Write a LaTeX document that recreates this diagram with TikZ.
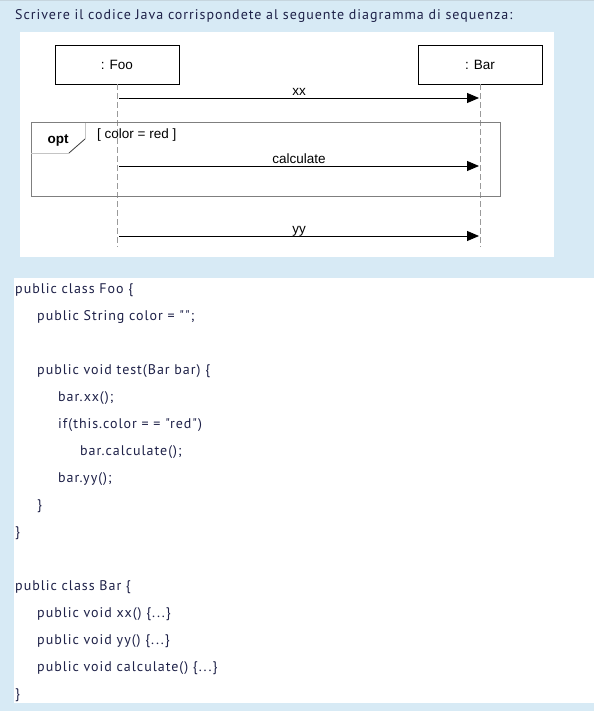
\documentclass[tikz,border=0pt]{standalone}
\usepackage{fontspec}
\setmainfont{Liberation Sans}
\newfontfamily\pagefont[LetterSpace=7]{PT Sans}
\usetikzlibrary{arrows.meta,positioning}
\definecolor{pageblue}{HTML}{D7EAF5}
\definecolor{inkblue}{HTML}{1E2148}
\definecolor{lifegray}{HTML}{9A9A9A}
\definecolor{framegray}{HTML}{7F7F7F}
\definecolor{tabgray}{HTML}{C4C4C4}
\tikzset{
  object/.style={draw, line width=0.9pt, minimum width=124pt, minimum height=39pt,
    inner sep=0pt, font=\fontsize{13.5}{16}\selectfont},
  lifeline/.style={draw=lifegray, line width=1pt, dash pattern=on 6pt off 3pt},
  message/.style={-{Triangle[length=12pt,width=10pt]}, line width=0.8pt},
  msglabel/.style={anchor=base, inner sep=0pt, yshift=2.5pt, font=\fontsize{13.5}{16}\selectfont},
  codeline/.style={anchor=base west, inner sep=0pt, text=inkblue, font=\pagefont\fontsize{14}{16}\selectfont},
}
\begin{document}
\begin{tikzpicture}[x=1pt,y=-1pt]
  \fill[pageblue] (0,0) rectangle (594,711);
  \useasboundingbox (0,0) rectangle (594,711);
  \draw[pageblue!80!gray, line width=1.5pt] (0,0.75) -- (594,0.75);
  \fill[white] (20,32) rectangle (554,257);
  \fill[white] (14,278) rectangle (594,703);
  \node[codeline] (title) at (15,20) {Scrivere il codice Java corrispondete al seguente diagramma di sequenza:};

  \node[object] (foo) at (117,64.5) {: Foo};
  \node[object] (bar) at (480,64.5) {: Bar};
  \coordinate (fooend) at (117,247);
  \coordinate (barend) at (480,247);
  \draw[lifeline] (foo.south) -- (fooend);
  \draw[lifeline] (bar.south) -- (barend);

  \draw[framegray, line width=1pt] (31,123) rectangle (500,197);
  \draw[tabgray, line width=0.8pt] (85,123) -- (85,139);
  \draw[black!75, line width=0.8pt] (85,139) -- (69,153);
  \draw[tabgray, line width=0.8pt] (69,153) -- (31,153);
  \node[anchor=base, inner sep=0pt, font=\bfseries\fontsize{13.5}{16}\selectfont] (opt) at (58,144) {opt};
  \node[anchor=base west, inner sep=0pt, font=\fontsize{13.5}{16}\selectfont] (guard) at (97,139) {[ color = red ]};

  \foreach \i/\y/\msg in {1/98/xx, 2/166/calculate, 3/236/yy} {
    \coordinate (s\i) at (119,\y);
    \coordinate (t\i) at (479,\y);
    \draw[message] (s\i) -- node[msglabel] {\msg} (t\i);
  }

  \foreach \i/\x/\y/\txt in {
      1/15/293/{public class Foo \{},
      2/37/320/{public String color = "";},
      3/37/374/{public void test(Bar bar) \{},
      4/58/401/{bar.xx();},
      5/58/428/{if(this.color = = "red")},
      6/80/455/{bar.calculate();},
      7/58/482/{bar.yy();},
      8/37/509/{\}},
      9/15/536/{\}},
      10/15/590/{public class Bar \{},
      11/37/617/{public void xx() \{...\}},
      12/37/644/{public void yy() \{...\}},
      13/37/671/{public void calculate() \{...\}},
      14/15/698/{\}}}
    \node[codeline] (code\i) at (\x,\y) {\txt};
\end{tikzpicture}
\end{document}
